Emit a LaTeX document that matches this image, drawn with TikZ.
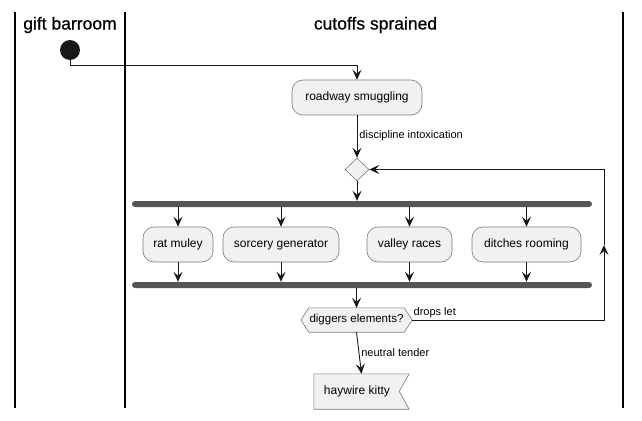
\documentclass[tikz,border=0pt]{standalone}
\usepackage{fontspec}
\setmainfont{Liberation Sans}
\newfontfamily\headfont[FakeBold=0.6]{Liberation Sans}
\usetikzlibrary{arrows.meta,shapes.geometric,backgrounds,calc}
\definecolor{boxfill}{HTML}{F1F1F1}
\definecolor{boxline}{HTML}{7A7A7A}
\definecolor{barcol}{HTML}{555555}
\definecolor{linecol}{HTML}{181818}
\tikzset{
  actbox/.style={draw=boxline, fill=boxfill, line width=0.6pt, rounded corners=11pt,
    minimum height=35pt, inner xsep=0pt, font=\fontsize{12}{14}\selectfont},
  barbox/.style={fill=barcol, rounded corners=3pt, minimum width=460pt, minimum height=6pt, inner sep=0pt},
  arr/.style={draw=linecol, line width=0.9pt, -{Stealth[length=10pt,width=9pt,inset=4pt]}},
  plain/.style={draw=linecol, line width=0.9pt},
  lbl/.style={font=\fontsize{11}{13}\selectfont, inner sep=1pt},
  lane/.style={draw=black, line width=1.2pt},
  head/.style={font=\headfont\fontsize{17.5}{20}\selectfont, inner sep=0pt},
  shapefill/.style={draw=boxline, fill=boxfill, line width=0.6pt}
}
\begin{document}
\begin{tikzpicture}[x=1pt,y=-1pt]
\useasboundingbox (0,0) rectangle (642,420);
% lanes
\coordinate (l1t) at (15,12); \coordinate (l1b) at (15,408);
\coordinate (l2t) at (125,12); \coordinate (l2b) at (125,408);
\coordinate (l3t) at (623,12); \coordinate (l3b) at (623,408);
\draw[lane] (l1t) -- (l1b);
\draw[lane] (l2t) -- (l2b);
\draw[lane] (l3t) -- (l3b);
\node[head] (h1) at (70,25) {gift barroom};
\node[head] (h2) at (375.5,25) {cutoffs sprained};

% start
\node[circle, fill=linecol, minimum size=20pt, inner sep=0pt] (start) at (70,50) {};
\node[actbox, minimum width=130pt] (rw) at (357,97.5) {roadway smuggling};
\node[diamond, shapefill, minimum width=24pt, minimum height=23pt, inner sep=0pt] (dia) at (357,169.5) {};
\node[barbox] (fork) at (362,204) {};
\node[actbox, minimum width=70pt] (b1) at (178,244.5) {rat muley};
\node[actbox, minimum width=116pt] (b2) at (281,244.5) {sorcery generator};
\node[actbox, minimum width=85pt] (b3) at (409.5,244.5) {valley races};
\node[actbox, minimum width=109pt] (b4) at (526.5,244.5) {ditches rooming};
\node[barbox] (join) at (362,285) {};
\node[minimum width=111pt, minimum height=24pt, inner sep=0pt, font=\fontsize{11.5}{13}\selectfont] (hex) at (356.5,320) {diggers elements?};
\node[minimum width=95pt, minimum height=35pt, inner sep=0pt, font=\fontsize{12}{14}\selectfont] (hk) at (361.5,391.5) {\hspace*{-9pt}haywire kitty};
\begin{pgfonlayer}{background}
\path[shapefill] (hex.west) -- ([xshift=8pt]hex.north west) -- ([xshift=-8pt]hex.north east) -- (hex.east) -- ([xshift=-8pt]hex.south east) -- ([xshift=8pt]hex.south west) -- cycle;
\path[shapefill] (hk.north west) -- (hk.north east) -- ([xshift=-10pt]hk.east) -- (hk.south east) -- (hk.south west) -- cycle;
\end{pgfonlayer}

% connectors
\draw[arr] (start.south) -- ++(0,5) -| (rw.north);
\draw[arr] (rw.south) -- node[lbl, right, pos=0.47, xshift=1pt] {discipline intoxication} (dia.north);
\draw[arr] (dia.south) -- (dia.south |- fork.north);
\foreach \b in {b1,b2,b3,b4}{
  \draw[arr] (\b.north |- fork.south) -- (\b.north);
  \draw[arr] (\b.south) -- (\b.south |- join.north);
}
\draw[arr] (hex.north |- join.south) -- (hex.north);
\draw[arr] (hex.south) -- node[lbl, right, pos=0.48, xshift=1pt] {neutral tender} (hk.north);
\coordinate (lb) at (604,320);
\coordinate (lm) at (604,245);
\coordinate (lt) at (604,169.5);
\draw[arr] (hex.east) -- node[lbl, anchor=south west, pos=0, yshift=0.5pt] {drops let} (lb) -- (lm);
\draw[arr] (lm) -- (lt) -- (dia.east);
\end{tikzpicture}
\end{document}
